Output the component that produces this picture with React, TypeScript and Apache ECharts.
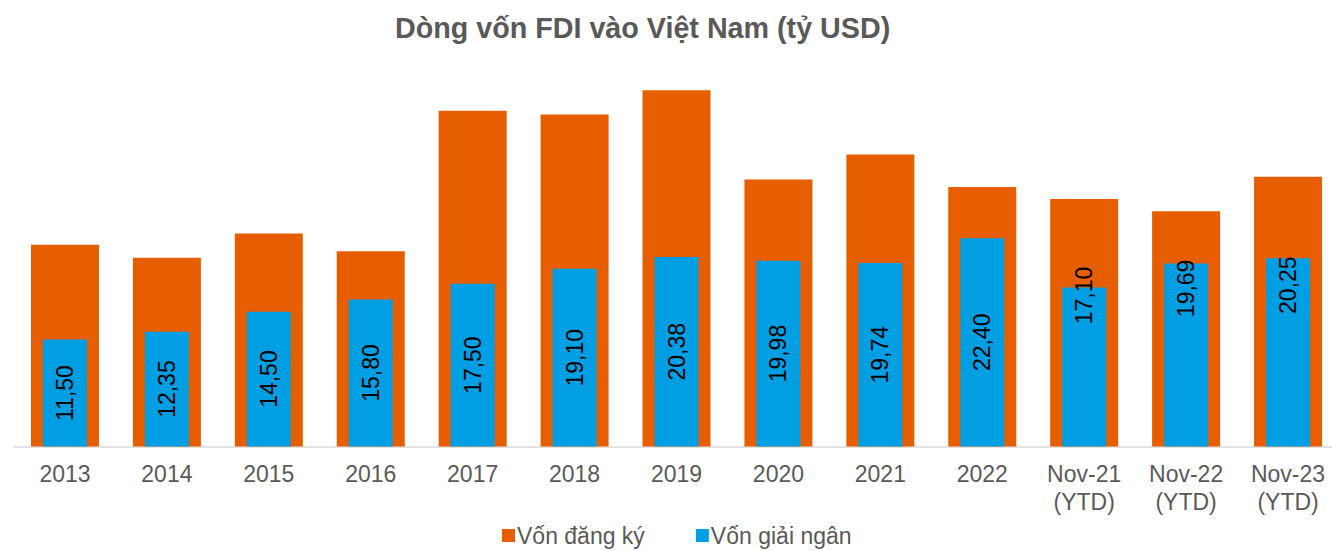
import React, { useEffect, useRef } from "react";
import * as echarts from "echarts";

const categories = [
  "2013", "2014", "2015", "2016", "2017", "2018", "2019", "2020", "2021", "2022",
  "Nov-21\n(YTD)", "Nov-22\n(YTD)", "Nov-23\n(YTD)",
];
const registered = [21.7, 20.3, 22.9, 21.0, 36.1, 35.7, 38.3, 28.7, 31.4, 27.9, 26.6, 25.3, 29.0];
const disbursed = [11.5, 12.35, 14.5, 15.8, 17.5, 19.1, 20.38, 19.98, 19.74, 22.4, 17.1, 19.69, 20.25];
// label offsets from bar top (px) for the last three bars, as in the reference
const labelTopOffsets: (number | null)[] = [null, null, null, null, null, null, null, null, null, null, 8, 25, 27];

const ORANGE = "#E65E00";
const BLUE = "#009FE3";
const GRAY = "#595959";
const FONT = "Liberation Sans, Arial, sans-serif";

export default function App() {
  const ref = useRef<HTMLDivElement>(null);
  useEffect(() => {
    document.body.style.margin = "0";
    if (!ref.current) return;
    const chart = echarts.init(ref.current, null, { renderer: "svg" });
    const fmt = (v: number) => v.toFixed(2).replace(".", ",");
    chart.setOption({
      animation: false,
      backgroundColor: "#ffffff",
      title: {
        text: "Dòng vốn FDI vào Việt Nam (tỷ USD)",
        left: 390,
        top: 8,
        textStyle: { fontFamily: FONT, fontSize: 28.7, fontWeight: "bold", color: GRAY },
      },
      legend: {
        left: 497,
        top: 519,
        itemWidth: 13,
        itemHeight: 13,
        itemGap: 51,
        icon: "rect",
        textStyle: { fontFamily: FONT, fontSize: 23, color: GRAY, padding: [0, 0, 0, -3] },
        data: ["Vốn đăng ký", "Vốn giải ngân"],
      },
      grid: { left: 14, width: 1325, top: 74.5, height: 372 },
      xAxis: [
        {
          type: "category",
          data: categories,
          axisLine: { lineStyle: { color: "#D9D9D9", width: 1.5 } },
          axisTick: { length: 6, lineStyle: { color: "#D9D9D9", width: 1.5 } },
          axisLabel: {
            fontFamily: FONT,
            fontSize: 23,
            color: GRAY,
            lineHeight: 28,
            margin: 13,
            interval: 0,
          },
        },
        {
          type: "category",
          data: categories,
          show: false,
        },
      ],
      yAxis: { type: "value", min: 0, max: 40, show: false },
      series: [
        {
          name: "Vốn đăng ký",
          type: "bar",
          xAxisIndex: 0,
          barWidth: 68,
          itemStyle: { color: ORANGE },
          data: registered,
        },
        {
          name: "Vốn giải ngân",
          type: "bar",
          xAxisIndex: 1,
          barWidth: 44,
          itemStyle: { color: BLUE },
          label: {
            show: true,
            position: "inside",
            rotate: 90,
            fontFamily: FONT,
            fontSize: 23,
            color: "#000000",
            formatter: (p: any) => fmt(p.value),
          },
          data: disbursed.map((v, i) => {
            const off = labelTopOffsets[i];
            if (off == null) return v;
            return {
              value: v,
              label: {
                position: ["50%", off],
                align: "center",
                verticalAlign: "middle",
              },
            };
          }),
        },
      ],
    });
    return () => chart.dispose();
  }, []);
  return (
    <div style={{ width: 1332, height: 551, overflow: "hidden" }}>
      <div ref={ref} style={{ width: 1345, height: 551 }} />
    </div>
  );
}
